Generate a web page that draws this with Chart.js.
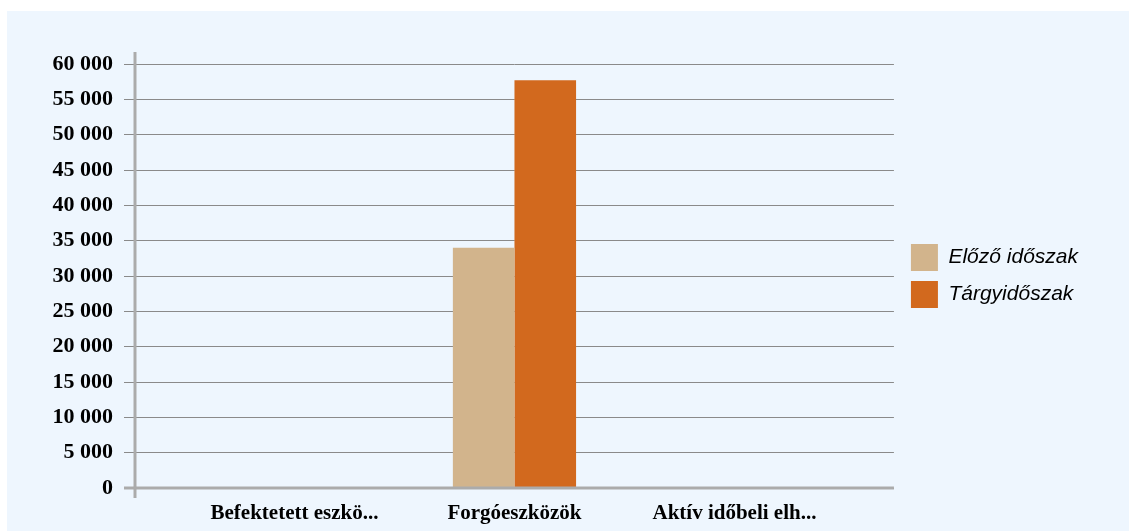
<!DOCTYPE html>
<html>
<head>
<meta charset="utf-8">
<script src="https://cdn.jsdelivr.net/npm/chart.js@4"></script>
<style>
  html, body { margin: 0; padding: 0; background: #ffffff; }
  .panel { position: absolute; left: 7px; top: 11px; width: 1122px; height: 520px; background: #eef6fe; }
</style>
</head>
<body>
<div class="panel"><canvas id="chart" width="1122" height="520"></canvas></div>
<script>
const categories = ['Befektetett eszkö...', 'Forgóeszközök', 'Aktív időbeli elh...'];
const previousPeriod = [0, 34000, 0];
const currentPeriod = [0, 57700, 0];
const seriesNames = ['Előző időszak', 'Tárgyidőszak'];

const formatThousands = (v) => String(v).replace(/\B(?=(\d{3})+(?!\d))/g, ' ');

// axis lines run a little past the plot area, so draw them by hand
const axisLines = {
  id: 'axisLines',
  afterDatasetsDraw(chart) {
    const { ctx, chartArea: a } = chart;
    ctx.save();
    ctx.strokeStyle = '#ababab';
    ctx.lineWidth = 3;
    ctx.beginPath();
    ctx.moveTo(a.left - 11, a.bottom);
    ctx.lineTo(a.right, a.bottom);
    ctx.moveTo(a.left, a.top - 12);
    ctx.lineTo(a.left, a.bottom + 10);
    ctx.stroke();
    ctx.restore();
  },
};

// keep the legend centred on the plot, a bit off the plot's right edge
const legendPlace = {
  id: 'legendPlace',
  afterLayout(chart) {
    const lg = chart.legend;
    const a = chart.chartArea;
    const w = lg.right - lg.left;
    lg.left = a.right + 7;
    lg.right = lg.left + w;
    lg.top = a.top;
    lg.bottom = a.bottom;
  },
};

// the outer category labels sit a bit closer to the middle one
const labelNudge = {
  id: 'labelNudge',
  beforeDraw(chart) {
    const items = chart.scales.x.getLabelItems();
    const mid = (items.length - 1) / 2;
    items.forEach((it, i) => {
      if (it._nudged) return;
      it.options.translation[0] += (mid - i) * 33;
      it._nudged = true;
    });
  },
};

new Chart(document.getElementById('chart'), {
  type: 'bar',
  data: {
    labels: categories,
    datasets: [
      { label: seriesNames[0], data: previousPeriod, backgroundColor: '#d2b48c' },
      { label: seriesNames[1], data: currentPeriod, backgroundColor: '#d2691e' },
    ],
  },
  options: {
    responsive: false,
    animation: false,
    layout: { padding: { left: 0, top: 53, right: 48, bottom: 0 } },
    categoryPercentage: 0.487,
    barPercentage: 1,
    plugins: {
      tooltip: { enabled: false },
      legend: {
        position: 'right',
        labels: {
          boxWidth: 27,
          boxHeight: 27,
          padding: 10,
          color: '#000000',
          font: { family: 'Liberation Sans', size: 21, style: 'italic' },
        },
      },
    },
    scales: {
      x: {
        grid: { display: false },
        border: { display: false },
        afterFit: (scale) => { scale.height = 43; },
        ticks: {
          color: '#000000',
          padding: 5,
          maxRotation: 0,
          font: { family: 'Liberation Serif', size: 21, weight: 'bold' },
        },
      },
      y: {
        min: 0,
        max: 60000,
        grid: { color: '#8a8a8a', lineWidth: 1, tickLength: 11 },
        border: { display: false },
        afterFit: (scale) => { scale.width = 128; },
        ticks: {
          stepSize: 5000,
          padding: 11,
          color: '#000000',
          font: { family: 'Liberation Serif', size: 22, weight: 'bold' },
          callback: (v) => formatThousands(v),
        },
      },
    },
  },
  plugins: [axisLines, legendPlace, labelNudge],
});
</script>
</body>
</html>
